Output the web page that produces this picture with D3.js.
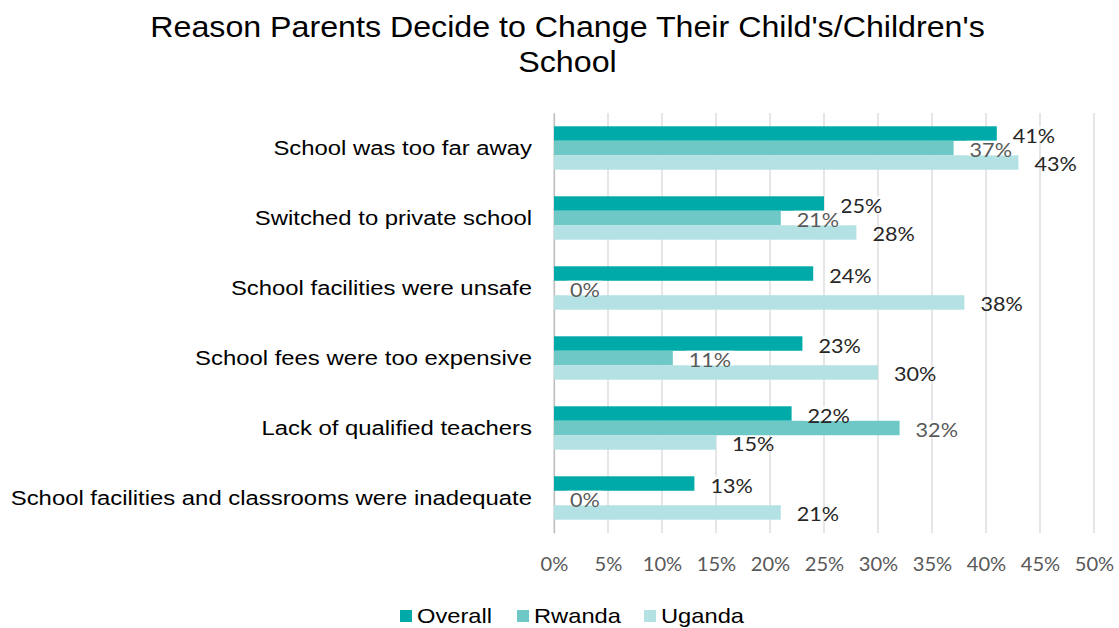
<!DOCTYPE html>
<html>
<head>
<meta charset="utf-8">
<script src="https://cdn.jsdelivr.net/npm/d3@7"></script>
<style>
  html, body { margin: 0; padding: 0; background: #fff; }
  svg { display: block; }
</style>
</head>
<body>
<svg id="chart" width="1119" height="628"></svg>
<script>
// Reasons for changing school, share of parents by group
const categories = [
  "School was too far away",
  "Switched to private school",
  "School facilities were unsafe ",
  "School fees were too expensive",
  "Lack of qualified teachers",
  "School facilities and classrooms were inadequate"
];
const seriesNames = ["Overall", "Rwanda", "Uganda"];
const overall = [41, 25, 24, 23, 22, 13];
const rwanda  = [37, 21, 0, 11, 32, 0];
const uganda  = [43, 28, 38, 30, 15, 21];
const xTicks = [0, 5, 10, 15, 20, 25, 30, 35, 40, 45, 50];
const titleLines = ["Reason Parents Decide to Change Their Child's/Children's", "School"];

const colors = ["#00AAA9", "#6DC8C6", "#B4E1E3"];
const labelColors = ["#262626", "#595959", "#262626"];
const labelFill = [true, true, false];

const values = [overall, rwanda, uganda];
const svg = d3.select("#chart");

const plot = { left: 554, right: 1094, top: 113, bottom: 533 };

// widen text horizontally about its own anchor point
function widen(sel, sx, ax, ay) {
  sel.attr("transform", `translate(${ax},${ay}) scale(${sx},1) translate(${-ax},${-ay})`);
}

const x = d3.scaleLinear().domain([0, 50]).range([plot.left, plot.right]);
const y = d3.scaleBand().domain(categories)
  .range([plot.top, plot.bottom])
  .paddingInner(0.38).paddingOuter(0.19);
const ySub = d3.scaleBand().domain(seriesNames).range([0, y.bandwidth()]);

// Title
svg.append("g").selectAll("text").data(titleLines).join("text")
  .attr("x", 567.5)
  .attr("y", (d, i) => 37 + i * 35)
  .attr("text-anchor", "middle")
  .attr("font-family", "Liberation Sans, Arial, sans-serif")
  .attr("font-size", 29)
  .attr("fill", "#000")
  .text(d => d)
  .each(function(d, i) { widen(d3.select(this), 1.11, 567.5, 37 + i * 35); });

// Gridlines
const grid = svg.append("g");
grid.selectAll("line").data(xTicks).join("line")
  .attr("x1", d => x(d)).attr("x2", d => x(d))
  .attr("y1", plot.top).attr("y2", plot.bottom)
  .attr("stroke", "#D9D9D9").attr("stroke-width", 1.3);

// X axis tick labels
const xAxis = d3.axisBottom(x).tickValues(xTicks).tickSize(0).tickPadding(0)
  .tickFormat(d => d + "%");
const gx = svg.append("g").attr("transform", `translate(0,${plot.bottom})`).call(xAxis);
gx.select(".domain").remove();
gx.selectAll("text")
  .attr("dy", null)
  .attr("y", 38)
  .attr("font-family", "Lato, Carlito, sans-serif")
  .attr("font-size", 19)
  .attr("fill", "#595959")
  .each(function() { widen(d3.select(this), 1.06, 0, 38); });

// Category axis labels
const yAxis = d3.axisLeft(y).tickSize(0).tickPadding(22);
const gy = svg.append("g").attr("transform", `translate(${plot.left},0)`).call(yAxis);
gy.select(".domain").attr("stroke", "#BFBFBF").attr("stroke-width", 1.3);
gy.selectAll("text")
  .attr("dy", "0.35em")
  .attr("font-family", "Liberation Sans, Arial, sans-serif")
  .attr("font-size", 21)
  .attr("fill", "#000")
  .each(function() { widen(d3.select(this), 1.137, -22, 0); });

// Bars
const groups = svg.append("g").selectAll("g").data(categories).join("g")
  .attr("transform", d => `translate(0,${y(d)})`);

groups.each(function(cat, ci) {
  const g = d3.select(this);
  seriesNames.forEach((s, si) => {
    const v = values[si][ci];
    g.append("rect")
      .attr("x", x(0))
      .attr("y", ySub(s))
      .attr("width", x(v) - x(0))
      .attr("height", ySub.bandwidth())
      .attr("fill", colors[si]);
  });
});

// Data labels
groups.each(function(cat, ci) {
  const g = d3.select(this);
  seriesNames.forEach((s, si) => {
    const v = values[si][ci];
    const lg = g.append("g");
    const tx = x(v) + 16;
    const ty = ySub(s) + ySub.bandwidth() / 2 + 2;
    const t = lg.append("text")
      .attr("x", tx)
      .attr("y", ty)
      .attr("dy", "0.35em")
      .attr("font-family", "Lato, Carlito, sans-serif")
      .attr("font-size", 20)
      .attr("fill", labelColors[si])
      .text(v + "%");
    widen(t, 1.08, tx, ty);
    if (labelFill[si]) {
      const bb = t.node().getBBox();
      lg.insert("rect", "text")
        .attr("x", bb.x - 3).attr("y", ySub(s))
        .attr("width", bb.width * 1.08 + 6).attr("height", ySub.bandwidth())
        .attr("fill", "#fff");
    }
  });
});

// Legend
const legendX = [400, 517, 644];
const legend = svg.append("g").selectAll("g").data(seriesNames).join("g")
  .attr("transform", (d, i) => `translate(${legendX[i]},610)`);
legend.append("rect").attr("width", 12).attr("height", 12)
  .attr("fill", (d, i) => colors[i]);
legend.append("text")
  .attr("x", 17).attr("y", 6).attr("dy", "0.35em")
  .attr("font-family", "Liberation Sans, Arial, sans-serif")
  .attr("font-size", 21)
  .attr("fill", "#000")
  .text(d => d)
  .each(function() { widen(d3.select(this), 1.13, 17, 6); });
</script>
</body>
</html>
